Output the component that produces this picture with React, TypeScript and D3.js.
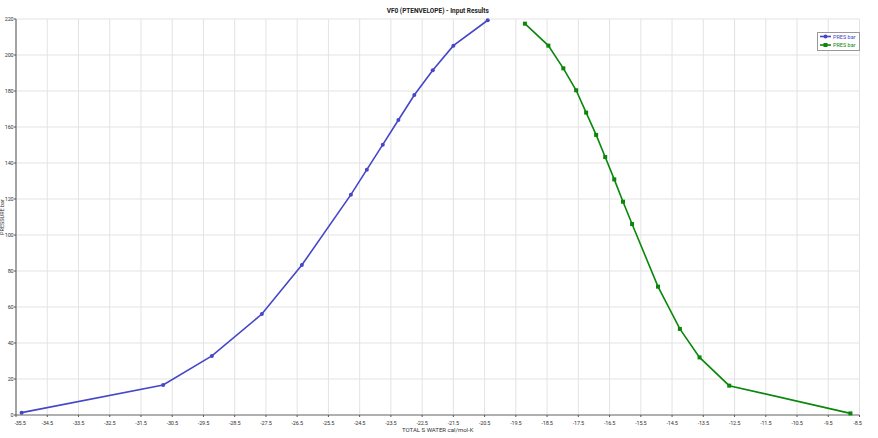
import React from "react";
import * as d3 from "d3";

const blueX = [-35.32, -30.79, -29.23, -27.63, -26.35, -24.78, -24.27, -23.76, -23.26, -22.75, -22.16, -21.5, -20.4];
const blueY = [1.3, 16.7, 32.8, 56.1, 83.3, 122.4, 136.3, 150.2, 163.9, 177.8, 191.5, 205.2, 219.3];
const greenX = [-19.21, -18.46, -17.98, -17.57, -17.25, -16.93, -16.64, -16.35, -16.07, -15.78, -14.95, -14.25, -13.62, -12.67, -8.79];
const greenY = [217.4, 205.2, 192.6, 180.4, 168.0, 155.6, 143.3, 130.9, 118.5, 106.1, 71.3, 47.8, 32.0, 16.3, 0.9];
const xTicks = d3.range(28).map((i) => -35.5 + i);
const yTicks = [0, 20, 40, 60, 80, 100, 120, 140, 160, 180, 200, 220];
const seriesNames = ["PRES bar", "PRES bar"];
const title = "VF0 (PTENVELOPE) - Input Results";
const xLabel = "TOTAL S WATER cal/mol-K";
const yLabel = "PRESSURE bar";

const W = 878, H = 438;
const L = 16, R = 859.5, T = 19, B = 415;
const BLUE = "#4646c8";
const GREEN = "#0a870a";
const FONT = "Roboto, 'Open Sans', sans-serif";

export default function App() {
  const x = d3.scaleLinear().domain([-35.5, -8.5]).range([L, R]);
  const y = d3.scaleLinear().domain([0, 220]).range([B, T]);
  const line = d3.line<[number, number]>().x((d) => x(d[0])).y((d) => y(d[1]));
  const blue: [number, number][] = blueX.map((v, i) => [v, blueY[i]]);
  const green: [number, number][] = greenX.map((v, i) => [v, greenY[i]]);
  return (
    <svg width={W} height={H} style={{ position: "absolute", left: 0, top: 0, background: "#fff" }} fontFamily={FONT}>
      <rect x={0} y={0} width={W} height={H} fill="#fff" />
      {yTicks.map((t) => (
        <line key={"gy" + t} x1={L} x2={R} y1={y(t)} y2={y(t)} stroke="#e3e3e3" strokeWidth={1} />
      ))}
      {xTicks.map((t) => (
        <line key={"gx" + t} x1={x(t)} x2={x(t)} y1={T} y2={B} stroke="#e3e3e3" strokeWidth={1} />
      ))}
      <line x1={L} x2={L} y1={T} y2={B} stroke="#707070" strokeWidth={1.2} />
      <line x1={L} x2={R} y1={B} y2={B} stroke="#707070" strokeWidth={1.2} />
      {xTicks.map((t) => (
        <g key={"tx" + t}>
          <line x1={x(t)} x2={x(t)} y1={B} y2={B + 2} stroke="#555" />
          <text x={t === -35.5 ? x(t) + 4 : t === -8.5 ? x(t) - 2 : x(t)} y={B + 9.5} fontSize={5.5} textAnchor="middle" fill="#333" letterSpacing={-0.2}>
            {t.toFixed(1)}
          </text>
        </g>
      ))}
      {yTicks.map((t) => (
        <g key={"ty" + t}>
          <line x1={L - 2} x2={L} y1={y(t)} y2={y(t)} stroke="#555" />
          <text x={L - 2.5} y={y(t) + 2} fontSize={5.5} textAnchor="end" fill="#333" letterSpacing={-0.2}>
            {t}
          </text>
        </g>
      ))}
      <text x={(L + R) / 2} y={13} fontSize={6.5} fontWeight="bold" textAnchor="middle" fill="#222">{title}</text>
      <text x={(L + R) / 2} y={432} fontSize={6} textAnchor="middle" fill="#333">{xLabel}</text>
      <text transform={`translate(4,${(T + B) / 2}) rotate(-90)`} fontSize={5.5} textAnchor="middle" fill="#333">{yLabel}</text>
      <path d={line(blue) || ""} fill="none" stroke={BLUE} strokeWidth={1.6} />
      {blue.map((d, i) => (
        <circle key={"b" + i} cx={x(d[0])} cy={y(d[1])} r={2} fill={BLUE} />
      ))}
      <path d={line(green) || ""} fill="none" stroke={GREEN} strokeWidth={1.6} />
      {green.map((d, i) => (
        <rect key={"g" + i} x={x(d[0]) - 2} y={y(d[1]) - 2} width={4} height={4} fill={GREEN} />
      ))}
      <g>
        <rect x={817.5} y={32.5} width={42} height={18} fill="#fff" stroke="#999" strokeWidth={1} />
        <line x1={820} x2={831} y1={36.5} y2={36.5} stroke={BLUE} strokeWidth={1.6} />
        <circle cx={825.5} cy={36.5} r={2} fill={BLUE} />
        <text x={833} y={38.5} fontSize={5.5} fill={BLUE}>{seriesNames[0]}</text>
        <line x1={820} x2={831} y1={45} y2={45} stroke={GREEN} strokeWidth={1.6} />
        <rect x={823.5} y={43} width={4} height={4} fill={GREEN} />
        <text x={833} y={47} fontSize={5.5} fill={GREEN}>{seriesNames[1]}</text>
      </g>
    </svg>
  );
}
